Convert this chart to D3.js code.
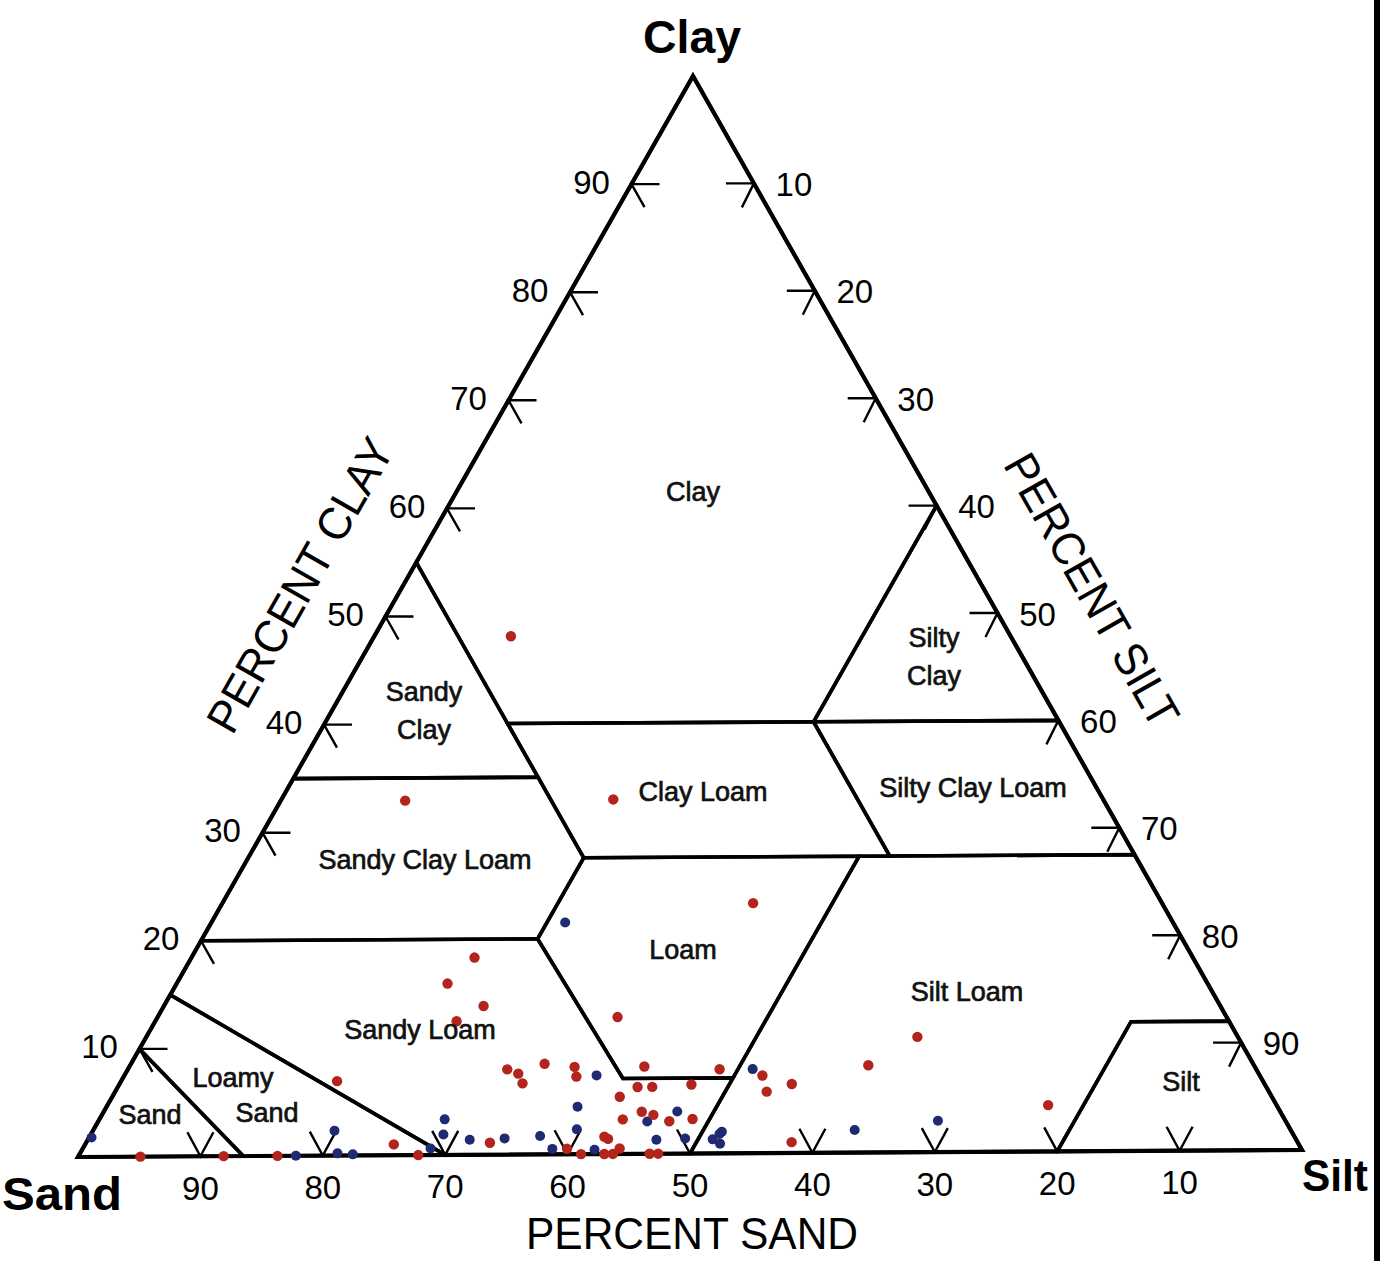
<!DOCTYPE html>
<html>
<head>
<meta charset="utf-8">
<script src="https://cdn.jsdelivr.net/npm/d3@7"></script>
<style>
  body { margin: 0; background: #fff; }
  svg { display: block; }
</style>
</head>
<body>
<svg id="chart"></svg>
<script>
// ---- data (percent sand, silt, clay) ----
const tickValues = [10, 20, 30, 40, 50, 60, 70, 80, 90];

// USDA texture class outlines, [sand, silt, clay]
const clayClass = [[0, 0, 100], [45, 0, 55], [45, 15, 40], [20, 40, 40], [0, 40, 60]];
const sandyClay = [[45, 0, 55], [65, 0, 35], [45, 20, 35]];
const siltyClay = [[20, 40, 40], [0, 60, 40], [0, 40, 60]];
const clayLoam = [[45, 15, 40], [45, 27.5, 27.5], [20, 52.5, 27.5], [20, 40, 40]];
const siltyClayLoam = [[20, 40, 40], [20, 52.5, 27.5], [0, 72.5, 27.5], [0, 60, 40]];
const sandyClayLoam = [[65, 0, 35], [80, 0, 20], [52.5, 27.5, 20], [45, 27.5, 27.5], [45, 20, 35]];
const loam = [[52.5, 27.5, 20], [45, 27.5, 27.5], [22.5, 50, 27.5], [43, 50, 7], [52, 41, 7]];
const siltLoam = [[22.5, 50, 27.5], [0, 72.5, 27.5], [0, 88, 12], [8, 80, 12], [20, 80, 0], [50, 50, 0], [43, 50, 7]];
const siltClass = [[8, 80, 12], [0, 88, 12], [0, 100, 0], [20, 80, 0]];
const sandyLoam = [[80, 0, 20], [52.5, 27.5, 20], [52, 41, 7], [43, 50, 7], [50, 50, 0], [70, 30, 0], [85, 0, 15]];
const loamySand = [[85, 0, 15], [70, 30, 0], [86.5, 13.5, 0], [90, 0, 10]];
const sandClass = [[90, 0, 10], [86.5, 13.5, 0], [100, 0, 0]];

// samples, [sand, clay] (silt = rest)
const redSamples = [
  [40.7, 48.1], [56.9, 32.9], [39.9, 32.9], [33.3, 23.2], [58.5, 18.3], [61.9, 15.9],
  [60.0, 13.8], [49.6, 12.7], [26.1, 10.7], [31.4, 8.1], [18.6, 4.3], [75.4, 6.9],
  [62.9, 12.4], [61.0, 7.9], [60.3, 7.5], [60.4, 6.6], [57.7, 8.4], [55.4, 8.1],
  [55.7, 7.2], [49.7, 8.1], [51.2, 6.2], [50.0, 6.2], [53.1, 5.3], [46.7, 6.4],
  [43.7, 7.8], [40.5, 7.2], [40.9, 5.7], [52.0, 3.9], [51.2, 3.6], [50.2, 3.0],
  [48.2, 3.2], [53.9, 3.2], [56.2, 1.6], [65.8, 1.1], [59.8, 0.5], [58.9, 0],
  [57.0, 0], [56.0, 1.4], [55.5, 0.5], [56.3, 0], [53.3, 0], [52.6, 0],
  [38.5, 6.4], [41.2, 1.0], [94.9, 0], [88.1, 0], [83.7, 0], [73.7, 1.0], [72.2, 0]
];
const blueSamples = [
  [49.5, 21.5], [54.0, 7.3], [41.0, 7.8], [57.0, 4.4], [52.0, 3.0], [49.1, 3.9],
  [58.1, 2.3], [52.1, 1.3], [46.7, 1.8], [68.4, 3.3], [67.3, 1.4], [64.4, 1.5],
  [61.4, 1.7], [61.0, 0.5], [57.6, 0.4], [49.7, 1.4], [47.5, 1.3], [46.4, 2.0],
  [47.1, 0.9], [98.0, 1.8], [82.2, 0], [77.9, 2.3], [78.7, 0.2], [77.5, 0.1],
  [69.2, 1.9], [70.9, 0.6], [35.5, 2.1], [28.3, 2.9]
];

// ---- layout ----
const width = 1391;
const height = 1261;
const SAND = [78, 1157];   // 100% sand corner
const SILT = [1302, 1150]; // 100% silt corner
const CLAY = [693, 76];    // 100% clay corner

const siltX = d3.scaleLinear().domain([0, 100]).range([0, SILT[0] - SAND[0]]);
const siltY = d3.scaleLinear().domain([0, 100]).range([0, SILT[1] - SAND[1]]);
const clayX = d3.scaleLinear().domain([0, 100]).range([0, CLAY[0] - SAND[0]]);
const clayY = d3.scaleLinear().domain([0, 100]).range([0, CLAY[1] - SAND[1]]);

function project(sand, silt, clay) {
  const k = 100 / (sand + silt + clay);
  return [SAND[0] + siltX(silt * k) + clayX(clay * k), SAND[1] + siltY(silt * k) + clayY(clay * k)];
}

const svg = d3.select('#chart')
  .attr('width', width)
  .attr('height', height)
  .attr('viewBox', `0 0 ${width} ${height}`);

svg.append('rect').attr('width', width).attr('height', height).attr('fill', '#fff');

// scan border on the right
svg.append('rect')
  .attr('x', 1374).attr('y', 0)
  .attr('width', 6).attr('height', height)
  .attr('fill', '#000');

const polyLine = d3.line().curve(d3.curveLinearClosed);

const classes = [clayClass, sandyClay, siltyClay, clayLoam, siltyClayLoam, sandyClayLoam,
  loam, siltLoam, siltClass, sandyLoam, loamySand, sandClass];

svg.append('g')
  .selectAll('path')
  .data(classes)
  .enter()
  .append('path')
  .attr('d', d => polyLine(d.map(p => project(p[0], p[1], p[2]))))
  .attr('fill', 'none')
  .attr('stroke', '#000')
  .attr('stroke-width', 3.6)
  .attr('stroke-linejoin', 'miter');

// outer triangle
svg.append('path')
  .attr('d', polyLine([SAND, SILT, CLAY]))
  .attr('fill', 'none')
  .attr('stroke', '#000')
  .attr('stroke-width', 4.2);

// ---- ticks ----
const ticks = svg.append('g')
  .attr('stroke', '#000')
  .attr('stroke-width', 2.4)
  .attr('fill', 'none');

const labelFont = '"Liberation Sans", Arial, sans-serif';
const tickText = svg.append('g')
  .attr('font-family', labelFont)
  .attr('font-size', 33)
  .attr('fill', '#000')
  .attr('text-anchor', 'middle')
  .attr('dominant-baseline', 'central');

tickValues.forEach(v => {
  // clay axis (left edge)
  let p = project(100 - v, 0, v);
  ticks.append('path').attr('d', `M${p[0] + 28},${p[1]}L${p[0]},${p[1]}L${p[0] + 13},${p[1] + 23}`);
  tickText.append('text').attr('x', p[0] - 40).attr('y', p[1] - 2).text(v);

  // silt axis (right edge)
  p = project(0, v, 100 - v);
  ticks.append('path').attr('d', `M${p[0] - 28},${p[1]}L${p[0]},${p[1]}L${p[0] - 12},${p[1] + 24}`);
  tickText.append('text').attr('x', p[0] + 40).attr('y', p[1] + 1).text(v);

  // sand axis (base)
  p = project(v, 100 - v, 0);
  ticks.append('path').attr('d', `M${p[0] - 13},${p[1] - 24}L${p[0]},${p[1]}L${p[0] + 13},${p[1] - 24}`);
  tickText.append('text').attr('x', p[0]).attr('y', p[1] + 32).text(v);
});

// ---- samples ----
const dots = svg.append('g');
dots.selectAll('.blue')
  .data(blueSamples)
  .enter()
  .append('circle')
  .attr('class', 'blue')
  .attr('cx', d => project(d[0], 100 - d[0] - d[1], d[1])[0])
  .attr('cy', d => project(d[0], 100 - d[0] - d[1], d[1])[1])
  .attr('r', 5)
  .attr('fill', '#1f2a72');

dots.selectAll('.red')
  .data(redSamples)
  .enter()
  .append('circle')
  .attr('class', 'red')
  .attr('cx', d => project(d[0], 100 - d[0] - d[1], d[1])[0])
  .attr('cy', d => project(d[0], 100 - d[0] - d[1], d[1])[1])
  .attr('r', 5.2)
  .attr('fill', '#b3241c');

// ---- class names ----
const classLabels = [
  { lines: ['Clay'], x: 693, y: 492 },
  { lines: ['Silty', 'Clay'], x: 934, y: 638 },
  { lines: ['Sandy', 'Clay'], x: 424, y: 692 },
  { lines: ['Clay Loam'], x: 703, y: 792 },
  { lines: ['Silty Clay Loam'], x: 973, y: 788 },
  { lines: ['Sandy Clay Loam'], x: 425, y: 860 },
  { lines: ['Loam'], x: 683, y: 950 },
  { lines: ['Silt Loam'], x: 967, y: 992 },
  { lines: ['Sandy Loam'], x: 420, y: 1030 },
  { lines: ['Loamy'], x: 233, y: 1078 },
  { lines: ['Sand'], x: 267, y: 1113 },
  { lines: ['Sand'], x: 150, y: 1115 },
  { lines: ['Silt'], x: 1181, y: 1082 }
];

const names = svg.append('g')
  .attr('font-family', labelFont)
  .attr('font-size', 27)
  .attr('fill', '#111')
  .attr('stroke', '#111')
  .attr('stroke-width', 0.7)
  .attr('text-anchor', 'middle')
  .attr('dominant-baseline', 'central');

classLabels.forEach(l => {
  l.lines.forEach((t, i) => {
    names.append('text').attr('x', l.x).attr('y', l.y + i * 38).text(t);
  });
});

// ---- corner & axis titles ----
const titles = svg.append('g')
  .attr('font-family', labelFont)
  .attr('fill', '#000');

titles.append('text')
  .attr('x', 692).attr('y', 53)
  .attr('text-anchor', 'middle')
  .attr('font-size', 46).attr('font-weight', 'bold')
  .attr('textLength', 98).attr('lengthAdjust', 'spacingAndGlyphs')
  .text('Clay');

titles.append('text')
  .attr('x', 2).attr('y', 1210)
  .attr('font-size', 46).attr('font-weight', 'bold')
  .attr('textLength', 120).attr('lengthAdjust', 'spacingAndGlyphs')
  .text('Sand');

titles.append('text')
  .attr('x', 1302).attr('y', 1191)
  .attr('font-size', 44).attr('font-weight', 'bold')
  .attr('textLength', 66).attr('lengthAdjust', 'spacingAndGlyphs')
  .text('Silt');

titles.append('text')
  .attr('x', 692).attr('y', 1249)
  .attr('text-anchor', 'middle')
  .attr('font-size', 44)
  .attr('textLength', 332).attr('lengthAdjust', 'spacingAndGlyphs')
  .text('PERCENT SAND');

titles.append('text')
  .attr('transform', 'translate(300,585) rotate(-60.4)')
  .attr('text-anchor', 'middle')
  .attr('dominant-baseline', 'central')
  .attr('font-size', 46)
  .attr('textLength', 330).attr('lengthAdjust', 'spacingAndGlyphs')
  .text('PERCENT CLAY');

titles.append('text')
  .attr('transform', 'translate(1092,590) rotate(60.4)')
  .attr('text-anchor', 'middle')
  .attr('dominant-baseline', 'central')
  .attr('font-size', 46)
  .attr('textLength', 306).attr('lengthAdjust', 'spacingAndGlyphs')
  .text('PERCENT SILT');
</script>
</body>
</html>
